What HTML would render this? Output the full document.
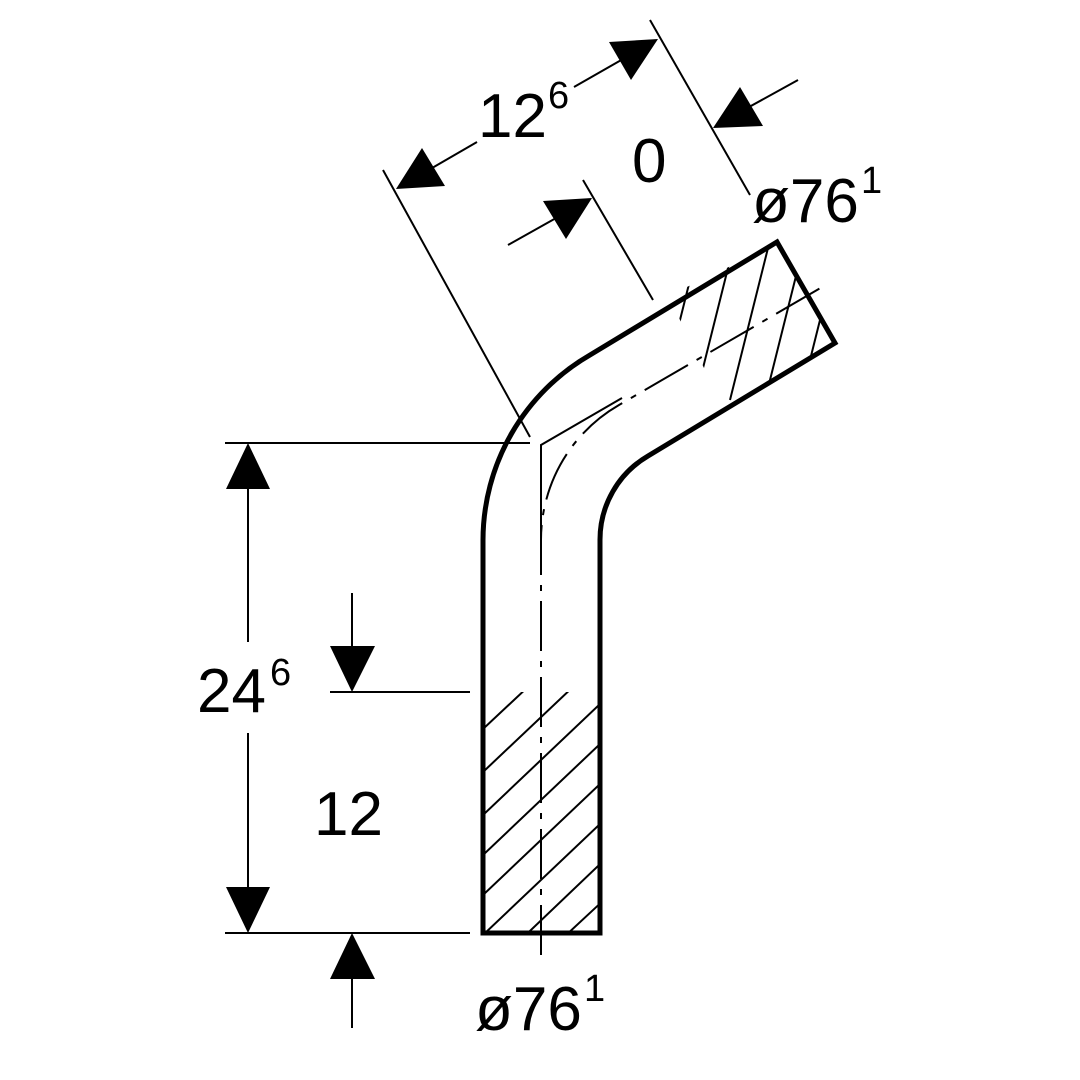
<!DOCTYPE html>
<html><head><meta charset="utf-8"><style>
html,body{margin:0;padding:0;background:#fff;}
svg{display:block;}
text{font-family:"Liberation Sans",sans-serif;fill:#000;}
</style></head><body>
<svg width="1080" height="1080" viewBox="0 0 1080 1080" xmlns="http://www.w3.org/2000/svg">
<defs>
<clipPath id="cb"><rect x="483" y="692" width="117" height="241"/></clipPath>
<clipPath id="ct"><polygon points="668,296 779,243 835,343 724,408"/></clipPath>
</defs>
<!-- hatching bottom -->
<g clip-path="url(#cb)" stroke="#000" stroke-width="2">
<line x1="483" y1="729" x2="530" y2="685"/>
<line x1="483" y1="772" x2="575" y2="685"/>
<line x1="483" y1="815" x2="620" y2="685"/>
<line x1="483" y1="855" x2="620" y2="725"/>
<line x1="483" y1="895" x2="620" y2="765"/>
<line x1="483" y1="935" x2="620" y2="805"/>
<line x1="510" y1="950" x2="620" y2="845"/>
<line x1="550" y1="950" x2="620" y2="885"/>
<line x1="590" y1="950" x2="640" y2="900"/>
</g>
<!-- hatching top -->
<g clip-path="url(#ct)" stroke="#000" stroke-width="2">
<line x1="700" y1="240" x2="660" y2="400"/>
<line x1="735" y1="240" x2="695" y2="400"/>
<line x1="770" y1="240" x2="730" y2="400"/>
<line x1="805" y1="240" x2="765" y2="400"/>
<line x1="840" y1="240" x2="800" y2="400"/>
<line x1="875" y1="240" x2="835" y2="400"/>
</g>
<!-- pipe outline -->
<path d="M483,933 L483,540 A214,214 0 0 1 590,355 L777,242 L835,343 L648,456 A97,97 0 0 0 600,540 L600,933 Z" fill="none" stroke="#000" stroke-width="5" stroke-linejoin="miter"/>
<!-- thin cut lines -->
<path d="M541,570 L541,445 L622,398" fill="none" stroke="#000" stroke-width="2"/>
<!-- centerline -->
<path d="M541,955 L541,540 A155.5,155.5 0 0 1 619,405 L824,286" fill="none" stroke="#000" stroke-width="2" stroke-dasharray="50 10 6 10"/>
<!-- left dimension -->
<g stroke="#000" stroke-width="2">
<line x1="225" y1="443" x2="530" y2="443"/>
<line x1="225" y1="933" x2="470" y2="933"/>
<line x1="330" y1="692" x2="470" y2="692"/>
<line x1="248" y1="480" x2="248" y2="642"/>
<line x1="248" y1="733" x2="248" y2="890"/>
<line x1="352" y1="593" x2="352" y2="650"/>
<line x1="352" y1="975" x2="352" y2="1028"/>
<!-- top -->
<line x1="383" y1="170" x2="530" y2="437"/>
<line x1="650" y1="20" x2="750" y2="195"/>
<line x1="583" y1="180" x2="653" y2="300"/>
<line x1="420" y1="175" x2="477" y2="142"/>
<line x1="574" y1="87" x2="630" y2="55"/>
<line x1="740" y1="112" x2="798" y2="80"/>
<line x1="508" y1="245" x2="565" y2="213"/>
</g>
<g fill="#000">
<polygon points="248,443 226,489 270,489"/>
<polygon points="248,933 226,887 270,887"/>
<polygon points="352,692 330,646 375,646"/>
<polygon points="352,933 330,979 375,979"/>
<polygon points="396,189 422,148 445,186"/>
<polygon points="658,39 609,42 631,80"/>
<polygon points="713,128 740,87 763,126"/>
<polygon points="592,198 543,201 566,239"/>
</g>
<!-- texts -->
<text x="478" y="137" font-size="62">12</text>
<text x="548" y="108" font-size="38">6</text>
<text x="632" y="182" font-size="62">0</text>
<text x="752" y="222" font-size="62">ø76</text>
<text x="861" y="193" font-size="38">1</text>
<text x="197" y="712" font-size="62">24</text>
<text x="270" y="685" font-size="38">6</text>
<text x="314" y="835" font-size="62">12</text>
<text x="475" y="1030" font-size="62">ø76</text>
<text x="584" y="1001" font-size="38">1</text>
</svg>
</body></html>
